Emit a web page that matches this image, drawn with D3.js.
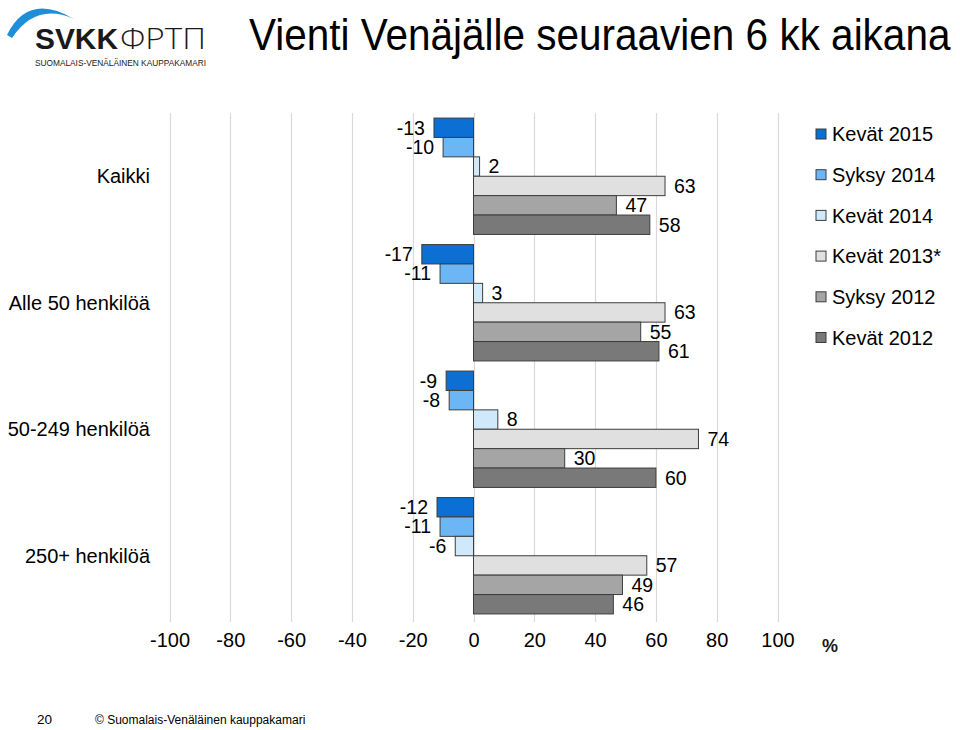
<!DOCTYPE html>
<html><head><meta charset="utf-8">
<script src="https://cdn.jsdelivr.net/npm/d3@7"></script>
<style>
html,body{margin:0;padding:0;background:#fff;}
svg{display:block;font-family:"Liberation Sans",Arial,sans-serif;}
</style></head>
<body><svg id="c" width="960" height="730"></svg>
<script>
const categories = ["Kaikki", "Alle 50 henkilöä", "50-249 henkilöä", "250+ henkilöä"];
const seriesNames = ["Kevät 2015", "Syksy 2014", "Kevät 2014", "Kevät 2013*", "Syksy 2012", "Kevät 2012"];
const kevat2015 = [-13, -17, -9, -12];
const syksy2014 = [-10, -11, -8, -11];
const kevat2014 = [2, 3, 8, -6];
const kevat2013 = [63, 63, 74, 57];
const syksy2012 = [47, 55, 30, 49];
const kevat2012 = [58, 61, 60, 46];
const xTicks = [-100, -80, -60, -40, -20, 0, 20, 40, 60, 80, 100];
const colors = ["#0b6fd3", "#6cb6f5", "#cfe9fb", "#e0e0e0", "#a5a5a5", "#797979"];

const seriesValues = [kevat2015, syksy2014, kevat2014, kevat2013, syksy2012, kevat2012];
const svg = d3.select("#c");

// Logo
const logo = svg.append("g");
logo.append("path")
  .attr("d", "M7,35 Q28,-8 74,19 Q36,2 12,38 Z")
  .attr("fill", "#1d8fd8");
logo.append("text").attr("x", 35).attr("y", 49).attr("font-size", 30).attr("font-weight", "bold")
  .attr("fill", "#1a1a1a").attr("textLength", 83).attr("lengthAdjust", "spacingAndGlyphs").text("SVKK");
logo.append("text").attr("x", 120).attr("y", 49).attr("font-size", 29).attr("font-weight", 300)
  .attr("font-family", "'Open Sans','DejaVu Sans',sans-serif")
  .attr("fill", "#1a1a1a").attr("textLength", 86).attr("lengthAdjust", "spacingAndGlyphs").text("ФРТП");
logo.append("text").attr("x", 35).attr("y", 66).attr("font-size", 9.5)
  .attr("fill", "#1a1a1a").attr("textLength", 171).attr("lengthAdjust", "spacingAndGlyphs")
  .text("SUOMALAIS-VENÄLÄINEN KAUPPAKAMARI");

// Title (vertically stretched to mimic the narrow original face)
svg.append("text").attr("transform", "translate(249,50) scale(1,1.11)")
  .attr("font-size", 40.5).attr("fill", "#000")
  .text("Vienti Venäjälle seuraavien 6 kk aikana");

// Scales
const x = d3.scaleLinear().domain([-100, 100]).range([169.5, 777.5]);
const y0 = d3.scaleBand().domain(categories).range([113, 619]).paddingInner(0.08).paddingOuter(0.04);
const y1 = d3.scaleBand().domain(seriesNames).range([0, y0.bandwidth()]);

// Gridlines
svg.append("g").selectAll("line").data(xTicks).join("line")
  .attr("x1", d => Math.round(x(d)) + 0.5).attr("x2", d => Math.round(x(d)) + 0.5)
  .attr("y1", 113).attr("y2", 622)
  .attr("stroke", "#d9d9d9").attr("stroke-width", 1.2);

// Axis labels
const axis = svg.append("g").attr("transform", "translate(0,619)")
  .call(d3.axisBottom(x).tickValues(xTicks).tickSize(0).tickPadding(14).tickFormat(d => String(d)));
axis.select(".domain").remove();
axis.selectAll("text").attr("font-size", 20).attr("font-family", "'Liberation Sans',Arial,sans-serif").attr("fill", "#000");
svg.append("text").attr("x", 822).attr("y", 652).attr("font-size", 18).attr("font-weight", "bold")
  .attr("fill", "#1a1a1a").text("%");

// Category labels
svg.append("g").selectAll("text").data(categories).join("text")
  .attr("x", 150).attr("y", d => y0(d) + y0.bandwidth() / 2)
  .attr("dy", "0.36em").attr("text-anchor", "end").attr("font-size", 20).attr("fill", "#000")
  .text(d => d);

// Bars
const data = [];
categories.forEach((c, i) => {
  seriesNames.forEach((s, j) => {
    data.push({cat: c, ser: s, v: seriesValues[j][i], color: colors[j]});
  });
});
svg.append("g").selectAll("rect").data(data).join("rect")
  .attr("x", d => x(Math.min(0, d.v)))
  .attr("width", d => Math.abs(x(d.v) - x(0)))
  .attr("y", d => y0(d.cat) + y1(d.ser))
  .attr("height", y1.bandwidth())
  .attr("fill", d => d.color)
  .attr("stroke", "#3d3d3d").attr("stroke-width", 1);

// Value labels
svg.append("g").selectAll("text").data(data).join("text")
  .attr("x", d => d.v < 0 ? x(d.v) - 9 : x(d.v) + 9)
  .attr("y", d => y0(d.cat) + y1(d.ser) + y1.bandwidth() / 2)
  .attr("dy", "0.35em")
  .attr("text-anchor", d => d.v < 0 ? "end" : "start")
  .attr("font-size", 19.5).attr("fill", "#000")
  .text(d => String(d.v));

// Legend
const lg = svg.append("g").selectAll("g").data(seriesNames).join("g")
  .attr("transform", (d, i) => `translate(816,${134 + i * 40.7})`);
lg.append("rect").attr("x", 0).attr("y", -5).attr("width", 10).attr("height", 10)
  .attr("fill", (d, i) => colors[i]).attr("stroke", "#3d3d3d").attr("stroke-width", 1);
lg.append("text").attr("x", 16).attr("dy", "0.36em").attr("font-size", 20).attr("fill", "#000").text(d => d);

// Footer
svg.append("text").attr("x", 37).attr("y", 724).attr("font-size", 13.5).attr("fill", "#000").text("20");
svg.append("text").attr("x", 95).attr("y", 724).attr("font-size", 12).attr("fill", "#000")
  .text("© Suomalais-Venäläinen kauppakamari");
</script></body></html>
